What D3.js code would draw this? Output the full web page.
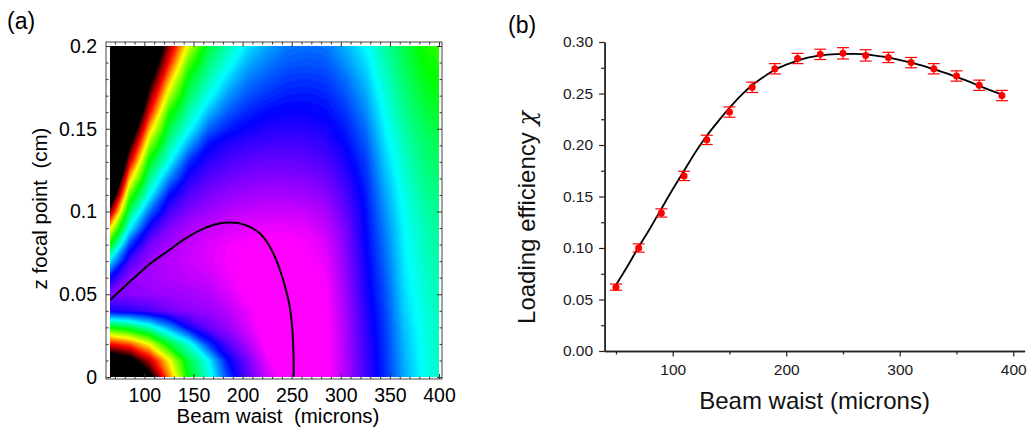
<!DOCTYPE html>
<html>
<head>
<meta charset="utf-8">
<script src="https://cdn.jsdelivr.net/npm/d3@7"></script>
<style>
	body { margin: 0; background: #fff; }
	svg { display: block; font-family: "Liberation Sans", Arial, sans-serif; }
</style>
</head>
<body>
<svg id="chart" width="1029" height="431"></svg>
<script>
// ---------- panel (a): colour level at each grid node
// colour level: <= -1 black, 0 red, 1 yellow, 2 green, 3 cyan, 4 blue, >= 5 magenta
const waistGrid = [65, 85, 105, 125, 145, 165, 185, 205, 225, 245, 265, 285, 305, 325, 345, 365, 385, 405];
const focusGrid = [0, 0.01, 0.02, 0.03, 0.04, 0.05, 0.06, 0.07, 0.08, 0.09, 0.1,
	0.11, 0.12, 0.13, 0.14, 0.15, 0.16, 0.17, 0.18, 0.19, 0.2];
const hueLevels = [
	[-3, -2.6, -1.3, 0.5, 2.06, 2.81, 3.75, 4.36, 4.79, 5.1, 5.15, 5.05, 4.69, 4.26, 3.83, 3.33, 2.95, 2.72],
	[-1.8, -1.35, -0.28, 0.97, 2.26, 3.0, 3.98, 4.45, 4.93, 5.15, 5.15, 5.05, 4.69, 4.25, 3.82, 3.3, 2.94, 2.72],
	[0, 0.34, 1.05, 2.16, 2.85, 3.79, 4.33, 4.68, 5.05, 5.18, 5.15, 5.05, 4.68, 4.23, 3.8, 3.27, 2.92, 2.71],
	[2, 2.29, 2.76, 3.39, 4.06, 4.4, 4.6, 4.85, 5.1, 5.18, 5.15, 5.04, 4.67, 4.2, 3.77, 3.22, 2.9, 2.7],
	[4.1, 4.16, 4.29, 4.45, 4.55, 4.6, 4.72, 4.92, 5.1, 5.17, 5.12, 5.03, 4.65, 4.17, 3.74, 3.17, 2.87, 2.69],
	[4.5, 4.55, 4.58, 4.62, 4.65, 4.7, 4.85, 5.02, 5.13, 5.15, 5.1, 5.0, 4.62, 4.13, 3.7, 3.13, 2.84, 2.67],
	[4.0, 4.58, 4.65, 4.7, 4.75, 4.8, 4.93, 5.05, 5.12, 5.12, 5.07, 4.97, 4.59, 4.1, 3.65, 3.09, 2.81, 2.65],
	[3.1, 4.28, 4.6, 4.72, 4.8, 4.87, 4.97, 5.05, 5.08, 5.08, 5.03, 4.92, 4.56, 4.06, 3.6, 3.05, 2.78, 2.63],
	[2.0, 3.76, 4.45, 4.65, 4.78, 4.86, 4.95, 5.0, 5.03, 5.03, 4.98, 4.86, 4.52, 4.03, 3.55, 3.02, 2.75, 2.6],
	[0.88, 3.0, 4.08, 4.5, 4.68, 4.77, 4.85, 4.9, 4.93, 4.93, 4.9, 4.77, 4.47, 4.0, 3.49, 3.0, 2.71, 2.57],
	[-0.57, 2.37, 3.55, 4.25, 4.5, 4.62, 4.72, 4.77, 4.8, 4.8, 4.77, 4.66, 4.38, 3.97, 3.43, 2.95, 2.67, 2.53],
	[-2.0, 1.64, 2.96, 3.95, 4.32, 4.48, 4.58, 4.63, 4.66, 4.66, 4.63, 4.55, 4.3, 3.92, 3.36, 2.9, 2.6, 2.48],
	[-3.2, 0.75, 2.52, 3.45, 4.1, 4.33, 4.44, 4.5, 4.53, 4.53, 4.5, 4.43, 4.2, 3.85, 3.28, 2.84, 2.54, 2.42],
	[-4, -0.2, 2.07, 2.95, 3.82, 4.16, 4.29, 4.36, 4.4, 4.41, 4.38, 4.31, 4.1, 3.78, 3.2, 2.78, 2.48, 2.36],
	[-4, -1.03, 1.41, 2.6, 3.35, 3.97, 4.13, 4.22, 4.26, 4.28, 4.26, 4.2, 4.0, 3.68, 3.12, 2.71, 2.42, 2.29],
	[-4, -1.9, 0.69, 2.26, 2.93, 3.6, 3.9, 4.04, 4.12, 4.15, 4.14, 4.08, 3.9, 3.58, 3.03, 2.64, 2.35, 2.21],
	[-4, -2.8, -0.05, 1.85, 2.65, 3.25, 3.65, 3.86, 3.98, 4.02, 4.02, 3.97, 3.8, 3.47, 2.95, 2.56, 2.27, 2.13],
	[-4, -3.5, -0.64, 1.25, 2.37, 2.92, 3.4, 3.68, 3.82, 3.9, 3.92, 3.88, 3.68, 3.36, 2.87, 2.48, 2.18, 2.04],
	[-4, -4, -1.25, 0.65, 2.09, 2.68, 3.15, 3.5, 3.66, 3.78, 3.8, 3.77, 3.56, 3.25, 2.79, 2.4, 2.09, 1.95],
	[-4, -4, -1.85, 0.05, 1.65, 2.45, 2.9, 3.3, 3.5, 3.64, 3.68, 3.65, 3.42, 3.13, 2.71, 2.33, 2.0, 1.86],
	[-4, -4, -2.4, -0.42, 1.13, 2.21, 2.68, 3.1, 3.35, 3.52, 3.57, 3.53, 3.3, 3.02, 2.63, 2.27, 1.92, 1.77]
];

// black iso-line drawn over the map
const contourWaist = [65, 75, 89, 105, 123, 140, 157, 170, 181, 195, 208, 218, 226, 233, 239, 244, 248, 250.5, 251.5, 252, 252];
const contourFocus = [0.0465, 0.052, 0.0596, 0.068, 0.0757, 0.083, 0.0888, 0.0918, 0.0932, 0.093, 0.0905, 0.0865, 0.0805, 0.0725, 0.063, 0.053, 0.0425, 0.03, 0.02, 0.01, 0];

const waistTicksA = [100, 150, 200, 250, 300, 350, 400];
const focusTicksA = [0, 0.05, 0.1, 0.15, 0.2];

// ---------- panel (b): measured loading efficiency and fit
const waist = [50, 70, 90, 110, 130, 150, 170, 190, 210, 230, 250, 270, 290, 310, 330, 350, 370, 390];
const efficiency = [0.062, 0.100, 0.134, 0.170, 0.205, 0.232, 0.256, 0.274, 0.284, 0.288, 0.289, 0.287, 0.285, 0.280, 0.274, 0.267, 0.258, 0.248];
const efficiencyErr = [0.003, 0.004, 0.004, 0.0045, 0.0045, 0.005, 0.005, 0.005, 0.005, 0.005, 0.0055, 0.0055, 0.005, 0.005, 0.005, 0.005, 0.005, 0.005];

const fitWaist = [50, 60, 70, 80, 90, 100, 110, 120, 130, 140, 150, 160, 170, 180, 190, 200, 210, 220,
	230, 240, 250, 260, 270, 280, 290, 300, 310, 320, 330, 340, 350, 360, 370, 380, 390];
const fitEfficiency = [0.064, 0.082, 0.101, 0.119, 0.138, 0.157, 0.175, 0.193, 0.209, 0.223, 0.236, 0.248,
	0.258, 0.266, 0.273, 0.278, 0.282, 0.285, 0.287, 0.288, 0.2885, 0.2885, 0.288, 0.2865, 0.285, 0.2825,
	0.280, 0.277, 0.2735, 0.270, 0.266, 0.262, 0.2575, 0.253, 0.249];

const waistTicksB = [100, 200, 300, 400];
const waistMinorB = [50, 150, 250, 350];
const effTicksB = [0, 0.05, 0.10, 0.15, 0.20, 0.25, 0.30];

const svg = d3.select("#chart");
svg.append("rect").attr("width", 1029).attr("height", 431).attr("fill", "#fff");

// ================= panel (a)
const xA = d3.scaleLinear().domain([65, 400]).range([110, 439]);
const zA = d3.scaleLinear().domain([0, 0.2]).range([377, 46]);
const frame = { left: xA.range()[0] - 4, right: xA.range()[1] + 3, top: zA.range()[1] - 4, bottom: zA.range()[0] + 2 };

function levelColor(h) {
	if (h <= -1) return "#000";
	if (h < 0) return d3.rgb(255 * (1 + h), 0, 0).toString();
	if (h >= 5) return "#ff00ff";
	return d3.hsl(h * 60, 1, 0.5).toString();
}

svg.append("clipPath").attr("id", "clipA")
	.append("rect")
	.attr("x", xA.range()[0]).attr("y", zA.range()[1])
	.attr("width", xA.range()[1] - xA.range()[0])
	.attr("height", zA.range()[0] - zA.range()[1]);

const mapG = svg.append("g").attr("clip-path", "url(#clipA)");

mapG.append("rect")
	.attr("x", xA.range()[0]).attr("y", zA.range()[1])
	.attr("width", xA.range()[1] - xA.range()[0])
	.attr("height", zA.range()[0] - zA.range()[1])
	.attr("fill", "#000");

// sample (i, j) sits at (i + 0.5, j + 0.5) in the contour grid
const nx = waistGrid.length;
const ny = focusGrid.length;
const levels = hueLevels.flat();
const gridX = d3.scaleLinear().domain([0.5, nx - 0.5]).range([waistGrid[0], waistGrid[nx - 1]]);
const gridZ = d3.scaleLinear().domain([0.5, ny - 0.5]).range([focusGrid[0], focusGrid[ny - 1]]);

// linear placement of each marching-squares vertex along its cell edge
function placeVertex(p, value) {
	const x = p[0];
	const y = p[1];
	if (Number.isInteger(x) && x > 0 && x < nx && !Number.isInteger(y)) {
		const j = Math.floor(y);
		const v0 = levels[j * nx + x - 1];
		const v1 = levels[j * nx + x];
		return [x - 0.5 + (value - v0) / (v1 - v0), y];
	}
	if (Number.isInteger(y) && y > 0 && y < ny && !Number.isInteger(x)) {
		const i = Math.floor(x);
		const v0 = levels[(y - 1) * nx + i];
		const v1 = levels[y * nx + i];
		return [x, y - 0.5 + (value - v0) / (v1 - v0)];
	}
	return [x, y];
}

const step = 0.05;
const bands = d3.contours()
	.size([nx, ny])
	.smooth(false)
	.thresholds(d3.range(-1, 5 + step / 2, step))(levels)
	.map((b) => ({
		type: "MultiPolygon",
		value: b.value,
		coordinates: b.coordinates.map((poly) => poly.map((ring) => ring.map((p) => placeVertex(p, b.value))))
	}));

const gridToScreen = d3.geoTransform({
	point: function (x, y) {
		this.stream.point(xA(gridX(x)), zA(gridZ(y)));
	}
});

mapG.selectAll("path.band")
	.data(bands)
	.enter()
	.append("path")
	.attr("class", "band")
	.attr("d", d3.geoPath(gridToScreen))
	.attr("fill", (d) => levelColor(d.value + step / 2));

mapG.append("path")
	.datum(contourWaist.map((w, i) => [w, contourFocus[i]]))
	.attr("fill", "none")
	.attr("stroke", "#000")
	.attr("stroke-width", 2)
	.attr("d", d3.line().x((d) => xA(d[0])).y((d) => zA(d[1])).curve(d3.curveCatmullRom));

// frame with inward ticks on all four sides
svg.append("rect")
	.attr("x", frame.left).attr("y", frame.top)
	.attr("width", frame.right - frame.left)
	.attr("height", frame.bottom - frame.top)
	.attr("fill", "none")
	.attr("stroke", "#444")
	.attr("stroke-width", 1);

const waistMinorA = d3.range(70, 401, 10).filter((v) => !waistTicksA.includes(v));
const focusMinorA = d3.range(1, 20).map((i) => i / 100).filter((v) => Math.abs(v * 20 - Math.round(v * 20)) > 1e-6);

function frameAxis(axis, transform, values, size, labels) {
	const g = svg.append("g")
		.attr("transform", transform)
		.call(axis.tickValues(values).tickSize(-size).tickPadding(9)
			.tickFormat(labels ? (d) => String(d) : ""));
	g.select(".domain").remove();
	g.selectAll("line").attr("stroke", "#333");
	g.selectAll("text").attr("fill", "#000").style("font-size", "19.5px");
	return g;
}

frameAxis(d3.axisBottom(xA), `translate(0,${frame.bottom})`, waistTicksA, 5, true);
frameAxis(d3.axisBottom(xA), `translate(0,${frame.bottom})`, waistMinorA, 2.5, false);
frameAxis(d3.axisTop(xA), `translate(0,${frame.top})`, waistTicksA, 5, false);
frameAxis(d3.axisTop(xA), `translate(0,${frame.top})`, waistMinorA, 2.5, false);
frameAxis(d3.axisLeft(zA), `translate(${frame.left},0)`, focusTicksA, 5, true);
frameAxis(d3.axisLeft(zA), `translate(${frame.left},0)`, focusMinorA, 2.5, false);
frameAxis(d3.axisRight(zA), `translate(${frame.right},0)`, focusTicksA, 5, false);
frameAxis(d3.axisRight(zA), `translate(${frame.right},0)`, focusMinorA, 2.5, false);

svg.append("text")
	.attr("x", (frame.left + frame.right) / 2 + 4)
	.attr("y", 423)
	.attr("text-anchor", "middle")
	.style("font-size", "20.5px")
	.style("white-space", "pre")
	.text("Beam waist  (microns)");

svg.append("text")
	.attr("transform", `translate(47,${(frame.top + frame.bottom) / 2 - 2}) rotate(-90)`)
	.attr("text-anchor", "middle")
	.style("font-size", "20.5px")
	.style("white-space", "pre")
	.text("z focal point  (cm)");

svg.append("text").attr("x", 7).attr("y", 29).style("font-size", "23px").text("(a)");

// ================= panel (b)
const xB = d3.scaleLinear().domain([40, 410]).range([604.6, 1024.6]);
const yB = d3.scaleLinear().domain([0, 0.30]).range([351, 42]);
const axisColor = "#222";

function styleAxis(g) {
	g.select(".domain").attr("stroke", axisColor).attr("stroke-width", 1.4);
	g.selectAll(".tick line").attr("stroke", axisColor).attr("stroke-width", 1.2);
	g.selectAll("text").attr("fill", "#1a1a1a").style("font-size", "15.5px");
}

svg.append("g")
	.attr("transform", `translate(0,${yB.range()[0]})`)
	.call(d3.axisBottom(xB).tickValues(waistMinorB).tickSize(3.5).tickSizeOuter(0).tickFormat(""))
	.call(styleAxis);
svg.append("g")
	.attr("transform", `translate(0,${yB.range()[0]})`)
	.call(d3.axisBottom(xB).tickValues(waistTicksB).tickSize(5.5).tickSizeOuter(0).tickPadding(7))
	.call(styleAxis);

const effMinorB = effTicksB.slice(0, -1).map((v) => v + 0.025);
svg.append("g")
	.attr("transform", `translate(${xB.range()[0]},0)`)
	.call(d3.axisLeft(yB).tickValues(effMinorB).tickSize(3.5).tickSizeOuter(0).tickFormat(""))
	.call(styleAxis);
svg.append("g")
	.attr("transform", `translate(${xB.range()[0]},0)`)
	.call(d3.axisLeft(yB).tickValues(effTicksB).tickSize(5.5).tickSizeOuter(0).tickPadding(6)
		.tickFormat(d3.format(".2f")))
	.call(styleAxis);

// fit curve
svg.append("path")
	.datum(fitWaist.map((w, i) => [w, fitEfficiency[i]]))
	.attr("fill", "none")
	.attr("stroke", "#000")
	.attr("stroke-width", 1.8)
	.attr("d", d3.line().x((d) => xB(d[0])).y((d) => yB(d[1])).curve(d3.curveCatmullRom));

// error bars and points
const points = waist.map((w, i) => ({ w: w, e: efficiency[i], err: efficiencyErr[i] }));
const errG = svg.append("g").attr("stroke", "#ff0000").attr("stroke-width", 1.2);
errG.selectAll("line.bar")
	.data(points)
	.enter()
	.append("line")
	.attr("x1", (d) => xB(d.w)).attr("x2", (d) => xB(d.w))
	.attr("y1", (d) => yB(d.e - d.err)).attr("y2", (d) => yB(d.e + d.err));
errG.selectAll("line.capTop")
	.data(points)
	.enter()
	.append("line")
	.attr("x1", (d) => xB(d.w) - 6).attr("x2", (d) => xB(d.w) + 6)
	.attr("y1", (d) => yB(d.e + d.err)).attr("y2", (d) => yB(d.e + d.err));
errG.selectAll("line.capBottom")
	.data(points)
	.enter()
	.append("line")
	.attr("x1", (d) => xB(d.w) - 6).attr("x2", (d) => xB(d.w) + 6)
	.attr("y1", (d) => yB(d.e - d.err)).attr("y2", (d) => yB(d.e - d.err));

svg.selectAll("circle.point")
	.data(points)
	.enter()
	.append("circle")
	.attr("class", "point")
	.attr("cx", (d) => xB(d.w))
	.attr("cy", (d) => yB(d.e))
	.attr("r", 3.5)
	.attr("fill", "#ff0000");

svg.append("text")
	.attr("x", (xB.range()[0] + xB.range()[1]) / 2)
	.attr("y", 409)
	.attr("text-anchor", "middle")
	.attr("fill", "#111")
	.style("font-size", "24px")
	.text("Beam waist (microns)");

const yTitle = svg.append("text")
	.attr("transform", `translate(535,${(yB.range()[0] + yB.range()[1]) / 2 + 21}) rotate(-90)`)
	.attr("text-anchor", "middle")
	.attr("fill", "#111")
	.style("font-size", "24px");
yTitle.append("tspan").text("Loading efficiency ");
yTitle.append("tspan").style("font-family", "'DejaVu Serif', serif").style("font-style", "italic").text("χ");

svg.append("text").attr("x", 508).attr("y", 33).style("font-size", "23px").text("(b)");
</script>
</body>
</html>
